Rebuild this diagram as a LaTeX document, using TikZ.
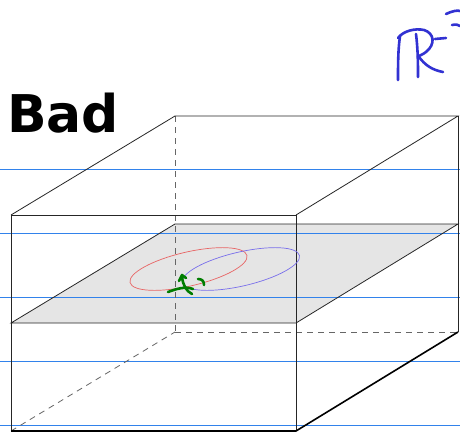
\documentclass[tikz,border=0pt]{standalone}
\usepackage{fontspec}
\newfontfamily\dejavu{DejaVu Sans}
\definecolor{rulecol}{RGB}{50,130,235}
\definecolor{redring}{RGB}{232,100,100}
\definecolor{bluering}{RGB}{120,110,235}
\definecolor{inkblue}{RGB}{50,50,210}
\definecolor{inkgreen}{RGB}{0,125,0}
\begin{document}
\begin{tikzpicture}[x=1pt,y=-1pt,
  edge/.style={draw=black!85,line width=0.8pt},
  thickedge/.style={draw=black,line width=1.6pt},
  hidden/.style={draw=black!60,line width=0.8pt,dash pattern=on 6pt off 5pt},
  ruleline/.style={draw=rulecol,line width=1.1pt},
  pen/.style={line width=2.6pt,line cap=round,line join=round},
  bluepen/.style={pen,draw=inkblue},
  greenpen/.style={pen,draw=inkgreen}]
\useasboundingbox[fill=white] (0,0) rectangle (460,437);
% corners
\coordinate (FBL) at (11,431);
\coordinate (FBR) at (296,431);
\coordinate (FTL) at (11,215);
\coordinate (FTR) at (296,215);
\coordinate (BTL) at (175,116);
\coordinate (BTR) at (458,116);
\coordinate (BBL) at (175,332);
\coordinate (BBR) at (458,332);
% plane
\coordinate (PFL) at (11,323);
\coordinate (PFR) at (296,323);
\coordinate (PBR) at (458,224);
\coordinate (PBL) at (175,224);
\fill[black!10] (PFL) -- (PFR) -- (PBR) -- (PBL) -- cycle;
% notebook lines
\foreach \yy in {169.5,233.5,297.5,361.5,425.5} {
  \coordinate (ruleL) at (0,\yy);
  \coordinate (ruleR) at (460,\yy);
  \draw[ruleline] (ruleL) -- (ruleR);
}
% hidden edges
\draw[hidden] (BTL) -- (BBL);
\draw[hidden] (BBL) -- (BBR);
\draw[hidden] (FBL) -- (BBL);
% plane edges
\draw[edge] (PFL) -- (PFR) -- (PBR) -- (PBL) -- cycle;
% visible box edges
\draw[edge] (FBL) -- (FTL) -- (FTR) -- (FBR);
\draw[edge] (FTL) -- (BTL) -- (BTR) -- (FTR);
\draw[edge] (BTR) -- (BBR);
\draw[thickedge] (FBL) -- (FBR) -- (BBR);
% ellipses
\draw[draw=redring,line width=0.7pt,rotate around={13:(188.5,269)}] (188.5,269) ellipse [x radius=60, y radius=17];
\draw[draw=bluering,line width=0.7pt,rotate around={13:(241,269)}] (241,269) ellipse [x radius=60, y radius=17];
% green scribble
\draw[greenpen] (168,292) .. controls (176,289) and (185,286) .. (193,289);
\draw[greenpen] (182,277) .. controls (183,285) and (186,291) .. (192,294);
\draw[greenpen] (179,281) -- (182,275) -- (186,278);
\draw[greenpen] (198,279) .. controls (202,279) and (204,281) .. (204,285);
% title
\node[anchor=base west,inner sep=0pt,font=\dejavu\bfseries\fontsize{52}{52}\selectfont] (title) at (7,132) {Bad};
% handwritten R^3
\draw[bluepen] (400,36) .. controls (398,50) and (398,65) .. (398,80);
\draw[bluepen] (398,38) .. controls (403,31) and (415,28) .. (424,30) .. controls (434,33) and (436,44) .. (426,52) .. controls (422,55) and (419,56) .. (418,56);
\draw[bluepen] (416,34) .. controls (418,50) and (418,65) .. (418,77);
\draw[bluepen] (419,57) .. controls (425,65) and (432,70) .. (443,72);
\draw[bluepen] (435,39) -- (446,38);
\draw[bluepen] (446,14) .. controls (452,11) and (458,10) .. (460,11);
\draw[bluepen] (452,25) .. controls (456,24) and (459,25) .. (460,26);
\end{tikzpicture}
\end{document}
